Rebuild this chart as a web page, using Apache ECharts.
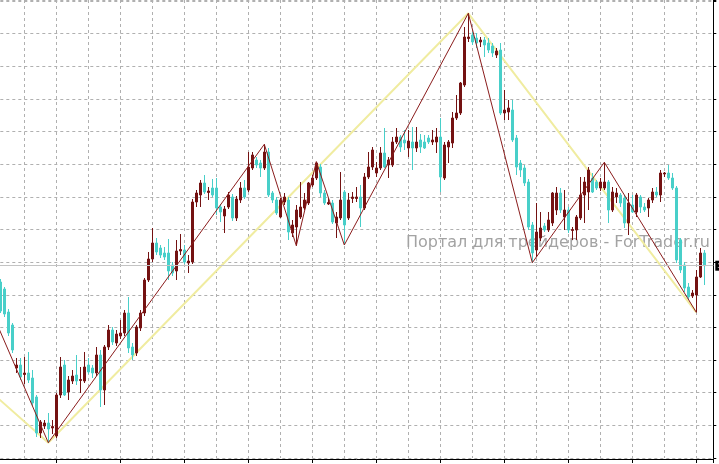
<!DOCTYPE html>
<html>
<head>
<meta charset="utf-8">
<script src="https://cdn.jsdelivr.net/npm/echarts@6/dist/echarts.min.js"></script>
<style>
html,body{margin:0;padding:0;background:#ffffff;}
#chart{width:719px;height:464px;}
</style>
</head>
<body>
<div id="chart"></div>
<script>
// Price values in chart points (0 = bottom grid line, one grid step = 32.64 points)
const opens = [
176,169,146,133,90,93,83.5,85,80,61,
25,32,35,30,22,63,93,66,77,83,
77.5,77,93,90,85,103,68,111,128,115,
122,125,145,111,105,130,145,178,199,215,
210,205,205,193,187,207,208,195,196,256,
263,275,265.5,270,270,251,242,251,261,240,
258,270,268,290,298,295,290,306,265,258,
241,256,258,225,231,241,250,255,273,280,
291,265,254,255,235,240,266,240,259.5,259.5,
261,250,281,291,285,290,305,293,293,316,
321,318,310,316,310,318,316,320,316,316,
321,280,311,315,340,345,373,419.5,423,420,
416,418,415,412,403,408,345,346,348,320,
295,290,276,233,208,220,232,228,235,248,
265,241,248,227.5,228,240,263,266,280,276,
270,270,276,248,261,263,260,235,253,246,
261,251,250,258,266,263,284,285,280,270,
218,193,171,162,163,181,205
];
const closes = [
147,144,125,108,93,81,85,78,55,25,
36,35,29,31.5,63,91,63,78,82,77,
78.5,91,86,85,103,68,111,128,116,124,
125,145,110,103,131,145,178,199,215,206,
203,201,187,185,207,208.5,196,197,256,265,
275,266,267,263,250,246,249,263,240,259,
270,261,291,303,293,290,306,263,258,245,
258,261,226,233,248,251,258,275,280,295,
265,255,255.5,236,241,258,233,258,261,261,
250,281,291,308,290,305,291,298,316,321,
311,315,317,310,316,311,310,316,318,321,
281,313,316,340,345,375,421,421,416,415,
418,413,408,405,407,345,348,350,318,291,
288,275,231,205,226,230,228,238,265,265,
248,248,228,228.5,241,263,276,288,266,270,
276,276,248,266,265,255,235,255,246,263,
251,248,258,266,263,285,285,280,270,198,
188,170,161,165,181,205,192.3
];
const lows = [
145,141,122,105,85,78,74,75,52,21,
20,29,15.3,24,20,60,62,58,74,73,
65,75,84,80,82,51,53,108,113,112,
119,122,105,98,102,127,142,176,196,203,
200,198,178,182,178,203,194,185,194,251,
251,264,258,261,243,236,225,249,237,237,
255,259,266,288,290,281,288,261,255,243,
240,253,218,221,212.3,239,248,253,271,278,
261,253,253,234,220,238,213,238,255,256,
231,248,279,288,281,288,290,280,291,314,
306,308,301,288,306,305,309,314,313,305,
266,278,295,310,338,343,371,416,413,410,
411,401,405,401,400,343,338,338,316,283,
281,272,228,195.3,201,217,226,226,232,243,
245,228,225,218,218,238,235,248,265,268,
267,268,235,246,255,251,230,223,245,241,
245,246,241,255,261,256,281,278,268,195,
185,166,158,160,145.7,180,173
];
const highs = [
179,171,149,135,100,100,101,106,88,63,
38,38,45,38,65,101,98,82,88,103,
91,106,100,93,111,108,113,133,131,128,
138,148,161,115,133,148,180,206,230,220,
213,211,219,196,218,224,213,203,259,268,
278,283,271,279,280,254,252,266,264,262,
276,278,306,306,301,298,313.7,310,267,261,
260,265,261,238,253,276,265,276,283,296.3,
294,268,260,258,246,286,268,265,266,271,
273,285,306,311,296,311,330,301,321,330,
323,328,328,331,331,324,323,323,328,330,
340,316,318,346,363,376,431,444.7,426,425,
421,421,420,415,410,415,368,358,358,323,
298,293,279,236,255,246,235,246,266,271,
270,268,251,231,243,281,281,291,285,278,
280,295.7,278,271,270,265,263,265,263,265,
263,255,260,270,271,288,286,293,285,272,
220,196,175,168,188,210,208
];

// ZigZag pivots (bar index, price); negative index = pivot before the visible window
const zigzagFastBars = [-8, 12, 66, 74, 79, 86, 117, 133, 151, 174];
const zigzagFastVals = [200.3, 15.3, 313.7, 212.3, 296.3, 213, 444.7, 195.3, 295.7, 145.7];
const zigzagSlowBars = [-18, 12, 117, 174];
const zigzagSlowVals = [121.4, 15.3, 444.7, 145.7];

const watermark = 'Портал для трейдеров - ForTrader.ru';

// axis arrangement
const BAR_SHIFT = 2;          // bar index -> x value (grid lines every 8 bars)
const X_MIN = -16, X_MAX = 180.25;
const Y_MIN = 0, Y_MAX = 458, Y_STEP = 32.64;

const lastClose = closes[closes.length - 1];

const candleData = opens.map((o, i) => [i + BAR_SHIFT, o, closes[i], lows[i], highs[i]]);
const fastData = zigzagFastBars.map((b, i) => [b + BAR_SHIFT, zigzagFastVals[i]]);
const slowData = zigzagSlowBars.map((b, i) => [b + BAR_SHIFT, zigzagSlowVals[i]]);

const gridLine = { color: '#b0b0b0', type: [3, 3], width: 1 };

const chart = echarts.init(document.getElementById('chart'), null, { renderer: 'canvas' });
chart.setOption({
  animation: false,
  backgroundColor: '#ffffff',
  grid: { left: -71.7, right: 5.7, top: 0, bottom: 6, containLabel: false, outerBoundsMode: 'none' },
  xAxis: [
    {
      type: 'value', min: X_MIN, max: X_MAX, interval: 8,
      axisLine: { show: false, onZero: false },
      axisTick: { show: false },
      axisLabel: { show: false },
      splitLine: { show: true, lineStyle: gridLine }
    },
    {
      type: 'value', position: 'bottom', offset: 1, min: X_MIN, max: X_MAX, interval: 16,
      axisLine: { show: true, onZero: false, lineStyle: { color: '#000000', width: 1 } },
      axisTick: { show: true, length: 4, lineStyle: { color: '#000000', width: 1 } },
      axisLabel: { show: false },
      splitLine: { show: false }
    }
  ],
  yAxis: {
    type: 'value', position: 'right', min: Y_MIN, max: Y_MAX, interval: Y_STEP,
    axisLine: { show: true, onZero: false, lineStyle: { color: '#000000', width: 1 } },
    axisTick: { show: true, length: 3, lineStyle: { color: '#000000', width: 1 } },
    axisLabel: { show: false },
    splitLine: { show: true, lineStyle: gridLine }
  },
  graphic: [
    {
      type: 'text', right: 9, top: 235, z: 1, silent: true,
      style: { text: watermark, fill: '#a3a3a3', font: '16px "DejaVu Sans", sans-serif' }
    }
  ],
  series: [
    {
      type: 'line', name: 'ZigZag slow', data: slowData, xAxisIndex: 0,
      showSymbol: false, symbol: 'none', z: 1, silent: true,
      lineStyle: { color: '#f0eca0', width: 2 }
    },
    {
      type: 'candlestick', name: 'Price', data: candleData, xAxisIndex: 0,
      barWidth: 2, z: 2, silent: true,
      itemStyle: {
        color: '#741212', color0: '#48cfc9',
        borderColor: '#741212', borderColor0: '#48cfc9', borderWidth: 1
      },
      markLine: {
        silent: true, symbol: ['none', 'none'], animation: false,
        lineStyle: { color: '#c4c4c4', type: 'solid', width: 1 },
        label: {
          show: true, position: 'end', distance: 2,
          formatter: () => lastClose.toFixed(1),
          color: '#ffffff', backgroundColor: '#000000', fontSize: 8,
          padding: [1, 2]
        },
        data: [{ yAxis: lastClose }]
      }
    },
    {
      type: 'line', name: 'ZigZag fast', data: fastData, xAxisIndex: 0,
      showSymbol: false, symbol: 'none', z: 3, silent: true,
      lineStyle: { color: '#8a1c1c', width: 1 }
    }
  ]
});
</script>
</body>
</html>
